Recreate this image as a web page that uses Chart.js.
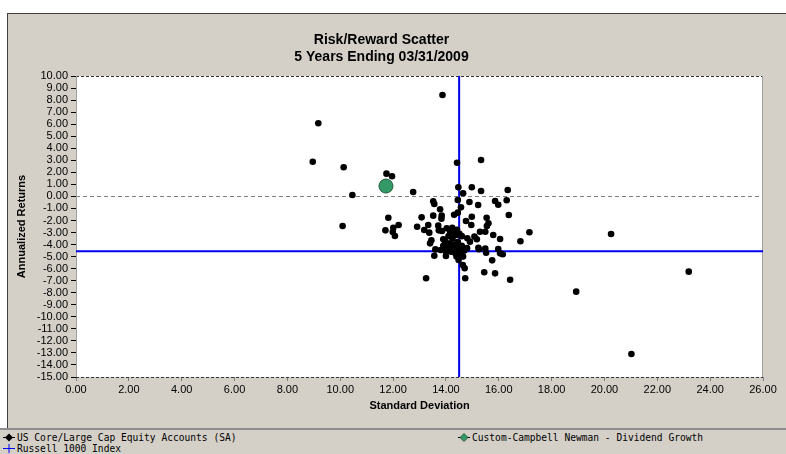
<!DOCTYPE html>
<html>
<head>
<meta charset="utf-8">
<script src="https://cdn.jsdelivr.net/npm/chart.js@4.4.1/dist/chart.umd.min.js"></script>
<style>
  body { margin: 0; width: 786px; height: 454px; overflow: hidden; background: #fff; position: relative; }
  #frame { position: absolute; left: 7px; top: 13px; width: 779px; height: 415px; background: #d4d0c8;
           border-left: 1px solid #404040; border-top: 1px solid #404040; box-sizing: border-box; }
  #sep { position: absolute; left: 0; top: 428px; width: 786px; height: 2px; background: #8c8c8c; }
  #legend { position: absolute; left: 0; top: 430px; width: 786px; height: 24px; background: #d4d0c8;
            font-family: "DejaVu Sans Mono", monospace; font-size: 9.6px; color: #000; }
  .item { position: absolute; height: 11px; line-height: 11px; white-space: nowrap; }
  .item svg { position: absolute; left: 0; top: 1px; }
  .item span { position: absolute; left: 14px; top: 0; }
  #chart { position: absolute; left: 0; top: 0; }
</style>
</head>
<body>
<div id="frame"></div>
<div id="sep"></div>
<div id="legend">
  <div class="item" style="left:3px;top:2px;">
    <svg width="12" height="9"><line x1="0" y1="4.5" x2="12" y2="4.5" stroke="#000" stroke-width="1"/><polygon points="6,0.5 10,4.5 6,8.5 2,4.5" fill="#000"/></svg>
    <span>US Core/Large Cap Equity Accounts (SA)</span>
  </div>
  <div class="item" style="left:458px;top:2px;">
    <svg width="12" height="9"><line x1="0" y1="4.5" x2="12" y2="4.5" stroke="#000" stroke-width="1"/><polygon points="6,0.5 10,4.5 6,8.5 2,4.5" fill="#339966" stroke="#1a4d33" stroke-width="0.8"/></svg>
    <span>Custom-Campbell Newman - Dividend Growth</span>
  </div>
  <div class="item" style="left:3px;top:13px;">
    <svg width="12" height="9"><line x1="0" y1="4.5" x2="12" y2="4.5" stroke="#0000ff" stroke-width="1"/><line x1="6" y1="0" x2="6" y2="9" stroke="#0000ff" stroke-width="1"/></svg>
    <span>Russell 1000 Index</span>
  </div>
</div>
<canvas id="chart" width="786" height="424"></canvas>
<script>
// peer universe: standard deviation / annualized return
const peerRisk = [
  13.87, 9.17, 8.96, 10.13, 11.75, 11.96, 14.42, 15.33, 10.46, 12.76,
  14.47, 14.98, 15.33, 16.34, 14.65, 13.52, 13.56, 13.78, 14.45, 14.57,
  14.89, 15.22, 15.86, 15.98, 16.30, 16.38, 11.82, 13.08, 13.52, 13.84,
  13.83, 14.31, 14.45, 14.98, 15.54, 10.09, 11.71, 12.01, 11.99, 12.07,
  12.21, 12.91, 13.33, 13.71, 13.73, 13.85, 14.03, 14.16, 14.26, 14.24,
  14.42, 14.51, 14.76, 14.96, 15.61, 15.55, 15.29, 15.49, 15.79, 16.05,
  17.16, 16.82, 13.18, 13.37, 13.45, 13.40, 13.90, 13.97, 14.81, 14.91,
  15.08, 15.17, 15.23, 15.25, 15.49, 15.52, 15.98, 16.05, 16.15, 13.56,
  14.00, 14.48, 14.64, 14.71, 15.75, 15.45, 15.86, 13.25, 14.73, 16.43,
  20.25, 23.19, 18.93, 21.02,
  13.90, 14.00, 14.10, 14.20, 14.30, 14.40, 14.20, 14.35, 14.55, 14.60,
  14.15, 14.45, 14.70, 14.55, 14.00, 13.80, 14.25, 14.60, 14.40, 14.10,
  13.60, 14.80, 14.65, 14.40
];
const peerReturn = [
  8.42, 6.07, 2.88, 2.42, 1.89, 1.67, 2.80, 3.02, 0.12, 0.37,
  0.76, 0.76, 0.45, 0.53, 0.26, -0.41, -0.63, -1.07, -0.30, -0.91,
  -0.47, -0.71, -0.38, -0.69, -0.32, -1.55, -1.77, -1.74, -1.60, -1.60,
  -1.85, -1.52, -1.35, -1.69, -1.77, -2.46, -2.82, -2.60, -2.96, -3.29,
  -2.38, -2.52, -2.38, -2.43, -2.82, -2.87, -2.65, -2.90, -3.01, -2.60,
  -2.77, -3.10, -2.04, -2.38, -2.23, -2.46, -2.93, -2.93, -3.21, -3.54,
  -2.98, -3.73, -2.79, -3.01, -3.65, -3.90, -3.56, -3.76, -3.48, -3.76,
  -3.34, -3.56, -4.26, -4.39, -4.34, -4.68, -4.37, -4.73, -4.81, -4.93,
  -4.95, -5.28, -5.70, -5.97, -5.31, -6.30, -6.39, -6.80, -6.80, -6.92,
  -3.12, -6.25, -7.91, -13.09,
  -4.10, -4.30, -4.50, -4.20, -4.00, -4.30, -4.60, -4.70, -4.40, -4.10,
  -3.90, -3.80, -4.50, -4.80, -4.60, -4.45, -3.50, -3.30, -3.20, -3.30,
  -4.40, -4.30, -5.00, -5.00
];
const fundRisk = [11.73];
const fundReturn = [0.86];
const indexRisk = [14.50];
const indexReturn = [-4.55];

const xTicks = [0, 2, 4, 6, 8, 10, 12, 14, 16, 18, 20, 22, 24, 26];
const yTicks = [10, 9, 8, 7, 6, 5, 4, 3, 2, 1, 0, -1, -2, -3, -4, -5, -6, -7, -8, -9, -10, -11, -12, -13, -14, -15];

const toPoints = (xs, ys) => xs.map((x, i) => ({ x: x, y: ys[i] }));

// white plot area, frame, zero line and the index crosshair
const plotFrame = {
  id: 'plotFrame',
  beforeDraw(chart) {
    const { ctx, chartArea: a } = chart;
    ctx.save();
    ctx.fillStyle = '#fff';
    ctx.fillRect(a.left, a.top, a.right - a.left, a.bottom - a.top);
    ctx.restore();
  },
  beforeDatasetsDraw(chart) {
    const { ctx, chartArea: a, scales } = chart;
    ctx.save();
    // zero line
    const y0 = Math.round(scales.y.getPixelForValue(0)) + 0.5;
    ctx.strokeStyle = '#808080';
    ctx.lineWidth = 1;
    ctx.setLineDash([4, 3]);
    ctx.beginPath(); ctx.moveTo(a.left, y0); ctx.lineTo(a.right, y0); ctx.stroke();
    // top / bottom dashed edges
    ctx.strokeStyle = '#333';
    ctx.setLineDash([3, 2]);
    ctx.beginPath();
    ctx.moveTo(a.left, a.top + 0.5); ctx.lineTo(a.right, a.top + 0.5);
    ctx.moveTo(a.left, a.bottom + 0.5); ctx.lineTo(a.right, a.bottom + 0.5);
    ctx.stroke();
    // left / right solid edges
    ctx.setLineDash([]);
    ctx.strokeStyle = '#a0a0a0';
    ctx.beginPath();
    ctx.moveTo(a.left + 0.5, a.top); ctx.lineTo(a.left + 0.5, a.bottom);
    ctx.moveTo(a.right - 0.5, a.top); ctx.lineTo(a.right - 0.5, a.bottom);
    ctx.stroke();
    // Russell 1000 crosshair
    const ix = scales.x.getPixelForValue(indexRisk[0]);
    const iy = scales.y.getPixelForValue(indexReturn[0]);
    ctx.strokeStyle = '#0000ee';
    ctx.lineWidth = 2;
    ctx.beginPath();
    ctx.moveTo(ix, a.top); ctx.lineTo(ix, a.bottom);
    ctx.moveTo(a.left, iy); ctx.lineTo(a.right, iy);
    ctx.stroke();
    ctx.restore();
  }
};

const tickFont = { family: '"Liberation Sans", Arial, sans-serif', size: 11 };
const titleFont = { family: '"Liberation Sans", Arial, sans-serif', size: 11, weight: 'bold' };

new Chart(document.getElementById('chart').getContext('2d'), {
  type: 'scatter',
  data: {
    datasets: [
      {
        label: 'Custom-Campbell Newman - Dividend Growth',
        data: toPoints(fundRisk, fundReturn),
        backgroundColor: '#339966',
        borderColor: '#1f5a3c',
        borderWidth: 1,
        pointRadius: 7,
        pointHoverRadius: 7
      },
      {
        label: 'US Core/Large Cap Equity Accounts (SA)',
        data: toPoints(peerRisk, peerReturn),
        backgroundColor: '#000',
        borderColor: '#000',
        borderWidth: 0,
        pointRadius: 3.3,
        pointHoverRadius: 3.3
      },
      {
        label: 'Russell 1000 Index',
        data: toPoints(indexRisk, indexReturn),
        pointStyle: 'cross',
        borderColor: '#0000ee',
        pointRadius: 0
      }
    ]
  },
  options: {
    responsive: false,
    animation: false,
    events: [],
    layout: { padding: { top: 13, right: 23, bottom: 0, left: 0 } },
    plugins: {
      legend: { display: false },
      tooltip: { enabled: false },
      title: {
        display: true,
        text: ['Risk/Reward Scatter', '5 Years Ending 03/31/2009'],
        color: '#000',
        font: { family: '"Liberation Sans", Arial, sans-serif', size: 14, weight: 'bold', lineHeight: 1.2 },
        padding: { top: 18.6, bottom: 10.8 }
      }
    },
    scales: {
      x: {
        type: 'linear', min: 0, max: 26,
        afterFit: s => { s.height = 47; },
        afterBuildTicks: s => { s.ticks = xTicks.map(v => ({ value: v })); },
        ticks: { font: tickFont, color: '#000', padding: 2, maxRotation: 0, autoSkip: false, callback: v => v.toFixed(2) },
        grid: { drawOnChartArea: false, drawTicks: true, tickLength: 4, tickColor: '#808080' },
        border: { display: false },
        title: { display: true, text: 'Standard Deviation', color: '#000', font: titleFont, padding: { top: 0, bottom: 11.4 } }
      },
      y: {
        type: 'linear', min: -15, max: 10,
        afterFit: s => { s.width = 76; },
        afterBuildTicks: s => { s.ticks = yTicks.map(v => ({ value: v })); },
        ticks: { font: tickFont, color: '#000', padding: 3, autoSkip: false, callback: v => v.toFixed(2) },
        grid: { drawOnChartArea: false, drawTicks: true, tickLength: 5, tickColor: '#000', tickWidth: 1 },
        border: { display: false },
        title: { display: true, text: 'Annualized Returns', color: '#000', font: titleFont, padding: { top: 15, bottom: 0 } }
      }
    }
  },
  plugins: [plotFrame]
});
</script>
</body>
</html>
